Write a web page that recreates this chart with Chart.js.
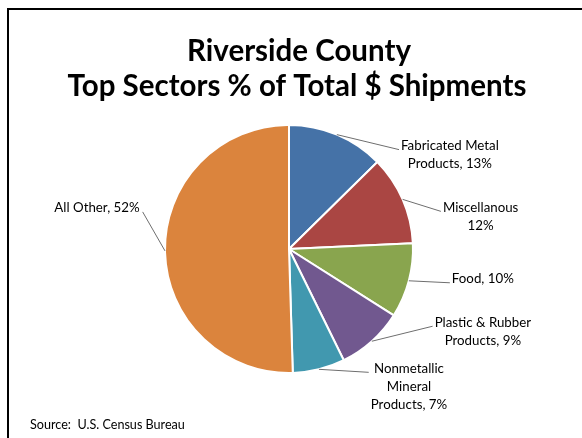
<!DOCTYPE html>
<html>
<head>
<meta charset="utf-8">
<script src="https://cdn.jsdelivr.net/npm/chart.js@4.4.0/dist/chart.umd.min.js"></script>
<style>
  html, body { margin: 0; padding: 0; background: #fff; }
  #wrap { position: relative; width: 582px; height: 438px; overflow: hidden; }
  #frame { position: absolute; left: 7px; top: 8px; width: 600px; height: 460px;
           border-top: 2px solid #000; border-left: 2px solid #000; }
  canvas { position: absolute; left: 0; top: 0; }
</style>
</head>
<body>
<div id="wrap">
  <div id="frame"></div>
  <canvas id="chart" width="582" height="438"></canvas>
</div>
<script>
const titleLines = ['Riverside County', 'Top Sectors % of Total $ Shipments'];
const sectors = ['Fabricated Metal Products', 'Miscellanous', 'Food', 'Plastic & Rubber Products', 'Nonmetallic Mineral Products', 'All Other'];
const shares = [13, 12, 10, 9, 7, 52];
const labelLines = [
  ['Fabricated Metal', 'Products, 13%'],
  ['Miscellanous', '12%'],
  ['Food, 10%'],
  ['Plastic & Rubber', 'Products, 9%'],
  ['Nonmetallic', 'Mineral', 'Products, 7%'],
  ['All Other, 52%'],
];
const sliceColors = ['#4572A7', '#AA4643', '#89A54E', '#71588F', '#4198AF', '#DB843D'];
const sourceNote = 'Source:  U.S. Census Bureau';

// where each label block sits, relative to the outer edge of its slice
const labelOffsets = [[113, 20], [78, 17], [74, -2], [111, -10], [90, 17], [-68, -43]];

const LABEL_FONT = '13.3px Lato, "Open Sans", sans-serif';
const LINE_H = 18;

const outsideLabels = {
  id: 'outsideLabels',
  afterDraw(chart) {
    const ctx = chart.ctx;
    const arcs = chart.getDatasetMeta(0).data;
    ctx.save();

    // title
    ctx.fillStyle = '#000';
    ctx.textAlign = 'center';
    ctx.textBaseline = 'alphabetic';
    ctx.font = 'bold 29.5px Lato, "Open Sans", sans-serif';
    ctx.fillText(titleLines[0], 299, 61);
    ctx.fillText(titleLines[1], 297, 96);

    // slice labels with leader lines
    ctx.font = LABEL_FONT;
    ctx.textBaseline = 'middle';
    arcs.forEach((arc, i) => {
      const { x, y, startAngle, endAngle, outerRadius } = arc.getProps(['x', 'y', 'startAngle', 'endAngle', 'outerRadius'], true);
      const mid = (startAngle + endAngle) / 2;
      const ex = x + Math.cos(mid) * outerRadius;
      const ey = y + Math.sin(mid) * outerRadius;
      const lines = labelLines[i];
      const cx = ex + labelOffsets[i][0];
      const cy = ey + labelOffsets[i][1];
      const w = Math.max(...lines.map(l => ctx.measureText(l).width));
      const firstY = cy - (lines.length - 1) * LINE_H / 2;
      const rightSide = labelOffsets[i][0] > 0;
      const lx = rightSide ? cx - w / 2 - 2 : cx + w / 2 + 3;
      const ly = firstY + 4;

      ctx.strokeStyle = '#6e6e6e';
      ctx.lineWidth = 1;
      ctx.beginPath();
      ctx.moveTo(ex, ey);
      ctx.lineTo(lx, ly);
      ctx.stroke();

      ctx.fillStyle = '#000';
      lines.forEach((l, k) => ctx.fillText(l, cx, firstY + k * LINE_H));
    });

    // source note
    ctx.textAlign = 'left';
    ctx.font = '12.6px Lato, "Open Sans", sans-serif';
    ctx.fillText(sourceNote, 30, 425);
    ctx.restore();
  },
};

new Chart(document.getElementById('chart'), {
  type: 'pie',
  data: {
    labels: sectors,
    datasets: [{
      data: shares,
      backgroundColor: sliceColors,
      borderColor: '#fff',
      borderWidth: 2,
    }],
  },
  options: {
    responsive: false,
    animation: false,
    layout: { padding: { left: 164, right: 168, top: 124, bottom: 64 } },
    plugins: {
      legend: { display: false },
      tooltip: { enabled: false },
    },
  },
  plugins: [outsideLabels],
});
</script>
</body>
</html>
